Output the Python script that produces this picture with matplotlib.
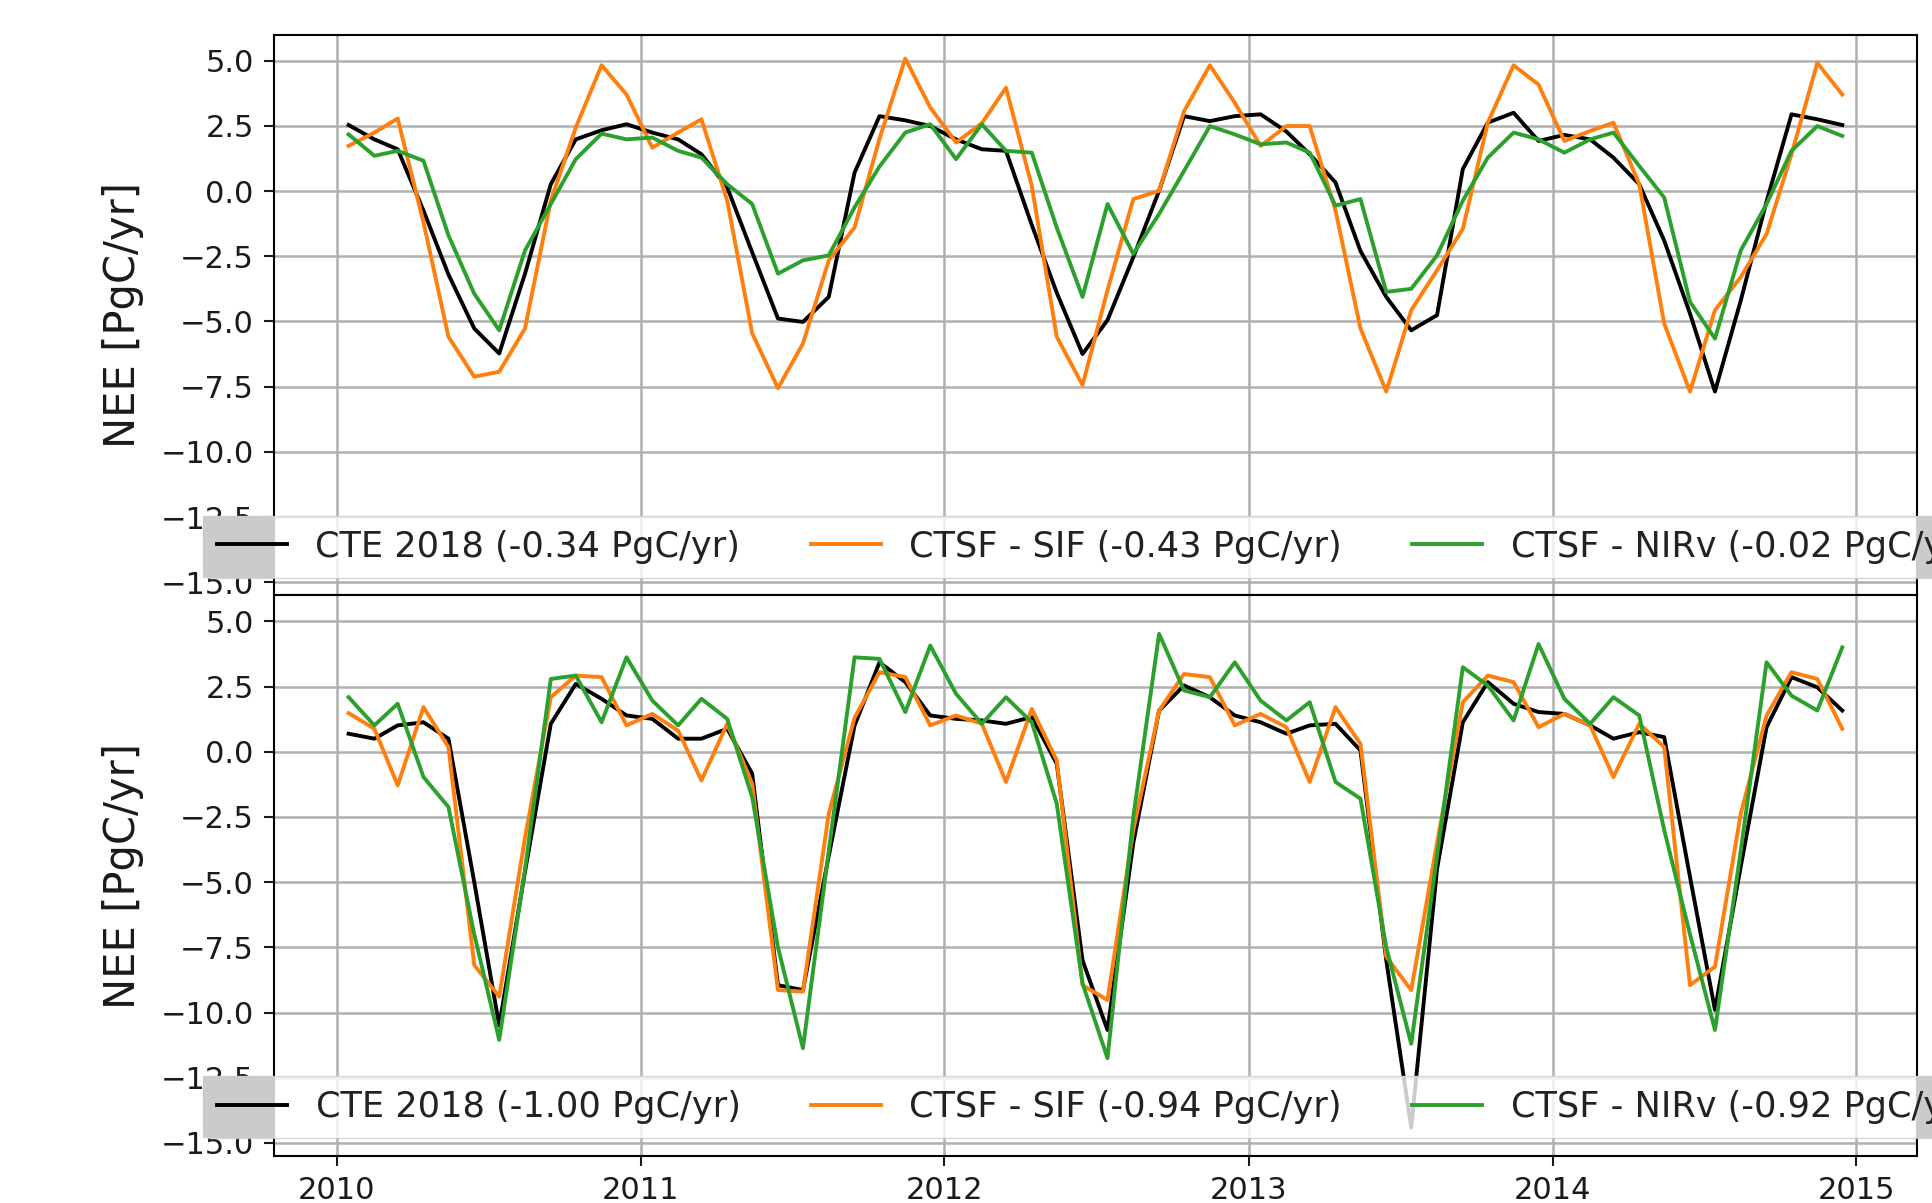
import numpy as np
import matplotlib
matplotlib.use('Agg')
import matplotlib.pyplot as plt
from matplotlib.patches import Rectangle

# monthly values, mid-month, Jan 2010 - Dec 2014
months = np.arange('2010-01', '2015-01', dtype='datetime64[M]')
dates = months.astype('datetime64[D]') + np.timedelta64(14, 'D')

# upper panel
cte_top = [2.53, 1.98, 1.60, -0.75, -3.2, -5.27, -6.23, -3.17, 0.26, 1.98, 2.33, 2.56,
           2.24, 1.98, 1.41, 0.14, -2.35, -4.89, -5.02, -4.06, 0.7, 2.87, 2.71, 2.49,
           1.98, 1.60, 1.54, -1.3, -3.9, -6.25, -4.95, -2.54, 0.01, 2.87, 2.68, 2.87,
           2.94, 2.28, 1.41, 0.33, -2.3, -4.06, -5.34, -4.76, 0.84, 2.62, 3.0, 1.92,
           2.15, 1.98, 1.28, 0.26, -1.9, -4.7, -7.69, -4.2, -0.4, 2.94, 2.75, 2.53]
sif_top = [1.73, 2.24, 2.78, -1.2, -5.59, -7.12, -6.93, -5.27, -0.37, 2.43, 4.82, 3.70,
           1.66, 2.24, 2.75, -0.37, -5.46, -7.56, -5.85, -2.66, -1.4, 2.0, 5.08, 3.2,
           1.86, 2.6, 3.96, 0.2, -5.59, -7.44, -3.8, -0.31, 0.01, 3.06, 4.82, 3.38,
           1.73, 2.49, 2.49, -0.75, -5.27, -7.69, -4.57, -3.04, -1.45, 2.62, 4.82, 4.08,
           1.92, 2.30, 2.62, 0.26, -5.08, -7.69, -4.57, -3.30, -1.65, 1.41, 4.91, 3.70]
nirv_top = [2.17, 1.35, 1.54, 1.16, -1.7, -3.94, -5.34, -2.28, -0.50, 1.22, 2.20, 1.98,
            2.05, 1.54, 1.28, 0.26, -0.50, -3.17, -2.66, -2.47, -0.63, 0.94, 2.24, 2.56,
            1.22, 2.56, 1.54, 1.47, -1.4, -4.06, -0.50, -2.41, -0.88, 0.77, 2.49, 2.17,
            1.79, 1.86, 1.47, -0.56, -0.31, -3.87, -3.75, -2.47, -0.37, 1.28, 2.24, 1.98,
            1.47, 1.98, 2.24, 0.96, -0.25, -4.25, -5.66, -2.28, -0.50, 1.54, 2.49, 2.11]
labels_top = ['CTE 2018 (-0.34 PgC/yr)', 'CTSF - SIF (-0.43 PgC/yr)',
              'CTSF - NIRv (-0.02 PgC/yr)']

# lower panel
cte_bot = [0.69, 0.50, 1.01, 1.13, 0.50, -5.0, -10.5, -4.6, 1.07, 2.60, 2.03, 1.39,
           1.26, 0.50, 0.50, 0.88, -0.84, -8.95, -9.14, -4.0, 1.0, 3.43, 2.67, 1.39,
           1.26, 1.20, 1.07, 1.33, -0.46, -8.0, -10.67, -3.5, 1.58, 2.54, 2.09, 1.39,
           1.13, 0.69, 1.01, 1.07, 0.05, -8.0, -14.4, -4.5, 1.13, 2.67, 1.84, 1.52,
           1.45, 1.01, 0.50, 0.75, 0.56, -4.8, -9.9, -4.4, 0.94, 2.86, 2.47, 1.58]
sif_bot = [1.48, 0.88, -1.29, 1.71, 0.18, -8.18, -9.39, -3.3, 2.09, 2.92, 2.86, 1.01,
           1.45, 0.81, -1.1, 1.07, -1.23, -9.14, -9.2, -2.38, 1.3, 3.05, 2.86, 1.01,
           1.39, 1.07, -1.16, 1.64, -0.33, -8.95, -9.52, -3.0, 1.58, 2.98, 2.86, 1.01,
           1.45, 0.94, -1.16, 1.71, 0.30, -7.86, -9.14, -3.5, 1.90, 2.92, 2.67, 0.94,
           1.45, 1.01, -0.97, 1.07, 0.18, -8.95, -8.24, -2.38, 1.39, 3.05, 2.79, 0.88]
nirv_bot = [2.09, 1.01, 1.84, -0.97, -2.12, -7.0, -11.05, -4.5, 2.79, 2.92, 1.13, 3.62,
            1.96, 1.01, 2.03, 1.26, -1.74, -7.5, -11.37, -3.8, 3.62, 3.56, 1.52, 4.07,
            2.22, 1.07, 2.09, 1.13, -1.99, -8.88, -11.75, -2.5, 4.52, 2.35, 2.09, 3.43,
            1.96, 1.20, 1.90, -1.16, -1.80, -7.5, -11.2, -4.0, 3.24, 2.54, 1.20, 4.13,
            2.03, 1.07, 2.09, 1.39, -3.0, -7.0, -10.67, -3.8, 3.43, 2.15, 1.58, 4.0]
labels_bot = ['CTE 2018 (-1.00 PgC/yr)', 'CTSF - SIF (-0.94 PgC/yr)',
              'CTSF - NIRv (-0.92 PgC/yr)']

colors = ['black', 'tab:orange', 'tab:green']

fig, axes = plt.subplots(2, 1, sharex=True, figsize=(19.33, 12.03), dpi=100)
fig.subplots_adjust(left=0.1417, right=0.9917, top=0.9713, bottom=0.0391, hspace=0.0)

legends = []
for ax, series, labels in zip(axes, [(cte_top, sif_top, nirv_top), (cte_bot, sif_bot, nirv_bot)],
                              [labels_top, labels_bot]):
    for vals, lab, c in zip(series, labels, colors):
        ax.plot(dates, vals, color=c, lw=2.8, label=lab)
    ax.set_ylim(-15.5, 6)
    ax.set_yticks(np.arange(-15, 5.1, 2.5))
    ax.grid(True, color='#b0b0b0', lw=1.8)
    ax.tick_params(labelsize=22, length=7, width=1.5, pad=7.5, colors='#1a1a1a')
    for sp in ax.spines.values():
        sp.set_linewidth(1.5)
    ax.set_ylabel('NEE [PgC/yr]', fontsize=30, color='#1a1a1a')
    ax.yaxis.set_label_coords(-0.079, 0.5)
    leg = ax.legend(loc='lower center', bbox_to_anchor=(0.4995, 0), ncol=3, fontsize=25.3)
    leg.get_frame().set_facecolor('none')
    for t in leg.get_texts():
        t.set_color('#222222')
    legends.append(leg)

# legend background: white (semi transparent) over the axes, grey outside
fig.canvas.draw()
for ax, leg in zip(axes, legends):
    bb = leg.get_window_extent().transformed(ax.transAxes.inverted())
    kw = dict(transform=ax.transAxes, edgecolor='none', clip_on=False, zorder=4.5)
    ax.add_patch(Rectangle((bb.x0, bb.y0), -bb.x0, bb.height, facecolor='#cbcbcb', **kw))
    ax.add_patch(Rectangle((0, bb.y0), 1, bb.height, facecolor='white', alpha=0.8, **kw))
    ax.add_patch(Rectangle((1, bb.y0), bb.x1 - 1, bb.height, facecolor='#cbcbcb', **kw))

fig.savefig('out.png', dpi=100)
